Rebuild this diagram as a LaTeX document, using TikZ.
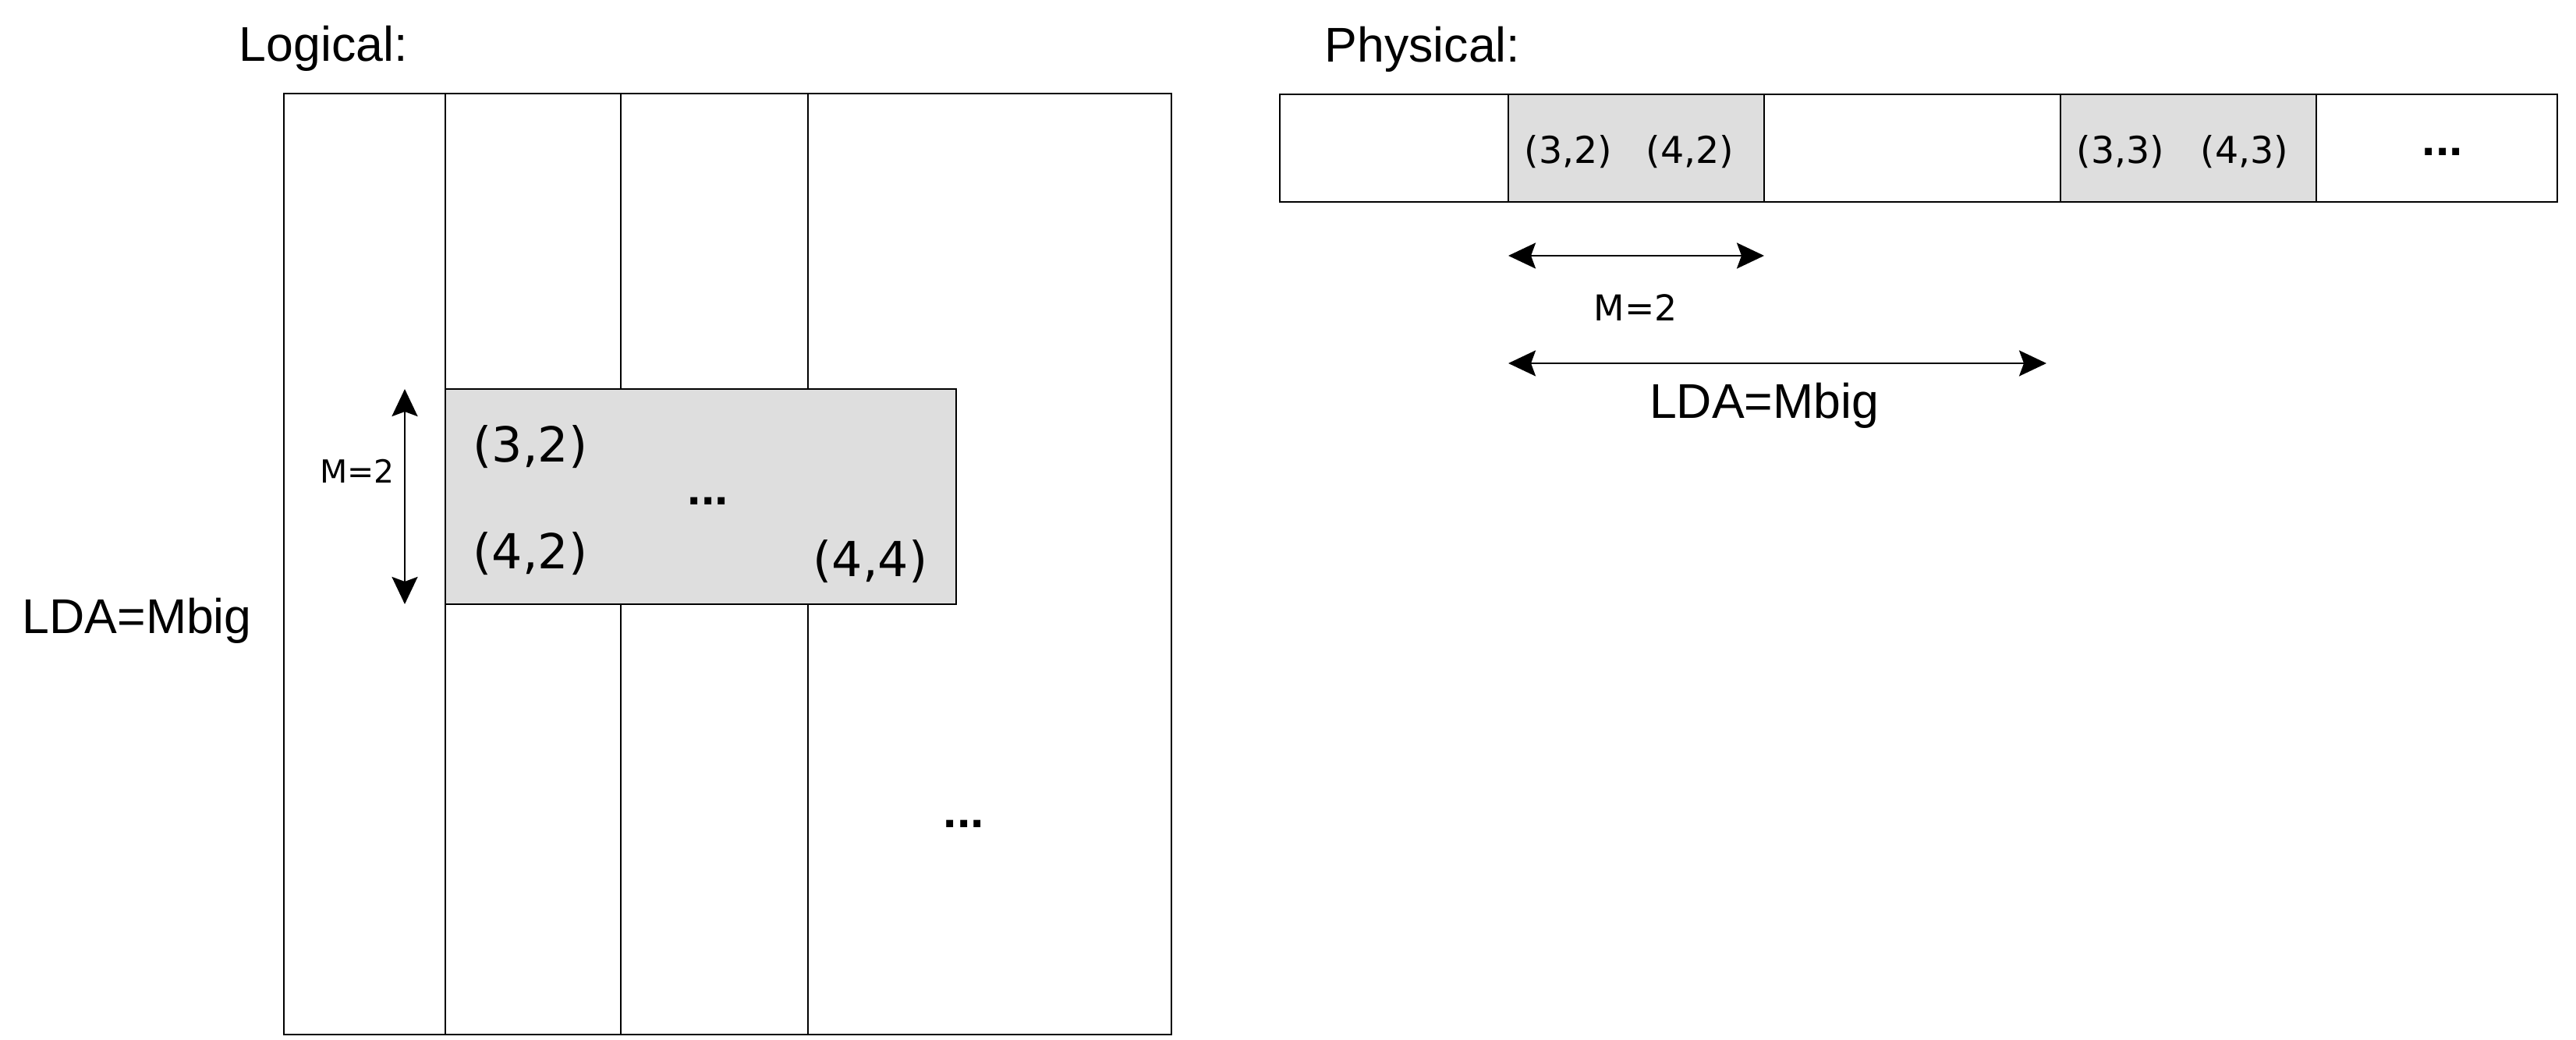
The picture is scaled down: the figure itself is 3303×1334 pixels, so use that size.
\documentclass[tikz,border=0pt]{standalone}
\usepackage{fontspec}
\setmainfont{Liberation Sans}
\newfontfamily\cellfont{DejaVu Sans}
\usetikzlibrary{arrows.meta, positioning}
\definecolor{cellgray}{RGB}{222,222,222}

\begin{document}
\begin{tikzpicture}[
    x=0.01cm, y=-0.01cm,
    title/.style={font=\fontsize{17.8pt}{21pt}\selectfont, inner sep=0pt, anchor=base},
    entry/.style={font=\cellfont\fontsize{17.6pt}{21pt}\selectfont, inner sep=0pt, anchor=base},
    slot/.style={font=\cellfont\fontsize{13.5pt}{16pt}\selectfont, inner sep=0pt, anchor=base},
    dimlabel/.style={font=\cellfont\fontsize{11.6pt}{14pt}\selectfont, inner sep=0pt, anchor=base},
    more/.style={font=\bfseries\fontsize{17.8pt}{21pt}\selectfont, inner sep=0pt, anchor=base},
    frame/.style={draw, line width=0.75pt},
    divider/.style={draw, line width=0.65pt},
    block/.style={draw, fill=cellgray, line width=0.75pt},
    arrow/.style={{Stealth[length=0.35cm,width=0.33cm,inset=0.06cm]}-{Stealth[length=0.35cm,width=0.33cm,inset=0.06cm]}, line width=0.75pt}
]
\useasboundingbox (0,0) rectangle (3303,1334);

% Logical layout
\node[title, anchor=base west] (logical) at (306,79) {Logical:};
\node[title, anchor=base west] (ldaleft) at (28,812) {LDA=Mbig};
\draw[frame] (364,120) rectangle (1502,1327);
\foreach \x in {571,796,1036}
    \draw[divider] (\x,120) -- (\x,1327);
\draw[block] (571,499) rectangle (1226,775);

\node[entry] (a32) at (680,593) {(3,2)};
\node[entry] (a42) at (680,730) {(4,2)};
\node[entry] (a44) at (1116,740) {(4,4)};
\node[more] (dotsin) at (908,648) {...};
\node[more] (dotsout) at (1236,1061) {...};

% Leading dimension arrow
\coordinate (mtop) at (519,499);
\coordinate (mbot) at (519,775);
\draw[arrow] (mtop) -- (mbot);
\node[dimlabel] (mleft) at (458,620) {M=2};

% Physical layout
\node[title, anchor=base west] (physical) at (1698,80) {Physical:};
\draw[block] (1934,121) rectangle (2262,259);
\draw[block] (2642,121) rectangle (2970,259);
\draw[frame] (1641,121) rectangle (3279,259);

\node[slot] (p32) at (2011,210) {(3,2)};
\node[slot] (p42) at (2167,210) {(4,2)};
\node[slot] (p33) at (2719,210) {(3,3)};
\node[slot] (p43) at (2878,210) {(4,3)};
\node[more] (dotsmem) at (3132,200) {...};

% Strides
\coordinate (ma) at (1934,328);
\coordinate (mb) at (2262,328);
\draw[arrow] (ma) -- (mb);
\node[dimlabel, font=\cellfont\fontsize{13pt}{15pt}\selectfont] (mright) at (2097,412) {M=2};

\coordinate (la) at (1934,466);
\coordinate (lb) at (2624,466);
\draw[arrow] (la) -- (lb);
\node[title] (ldaright) at (2262,537) {LDA=Mbig};

\end{tikzpicture}
\end{document}
